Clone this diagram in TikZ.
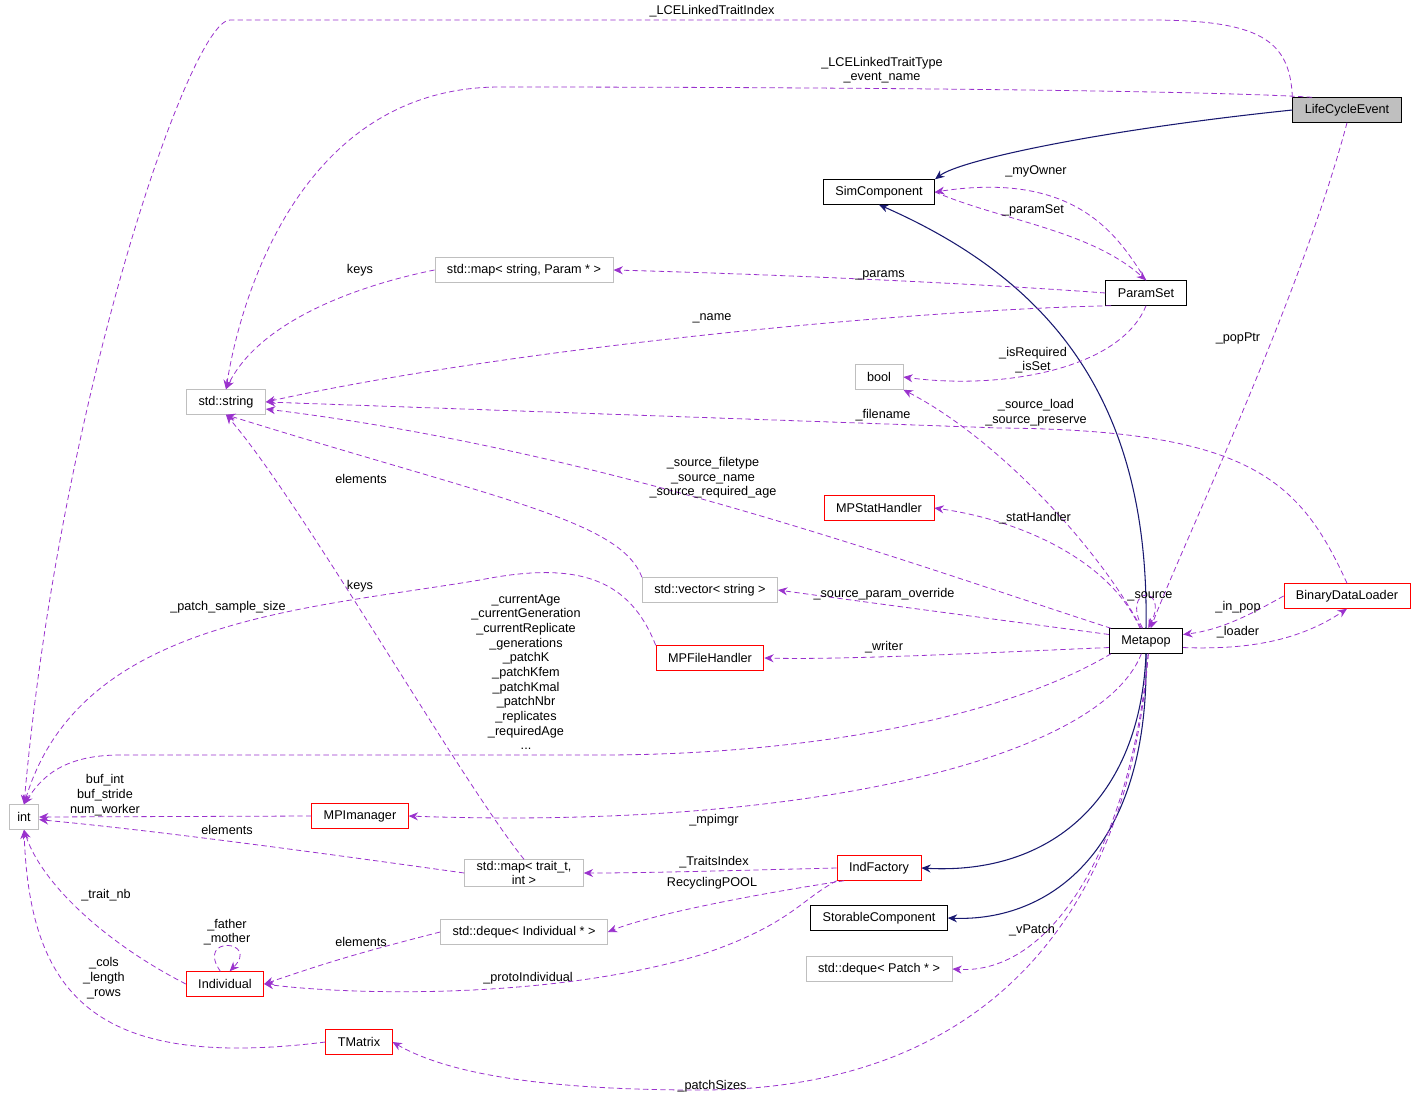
\documentclass[tikz,border=0pt]{standalone}
\usepackage{fontspec}
\setmainfont{Liberation Sans}
\usetikzlibrary{arrows.meta,positioning}
\definecolor{edgepurple}{HTML}{9A32CD}
\definecolor{edgenavy}{HTML}{191970}
\definecolor{boxgray}{HTML}{BFBFBF}
\begin{document}
\begin{tikzpicture}[x=0.75pt,y=-0.75pt,font=\fontsize{9.5}{11}\selectfont]
\tikzstyle{cls} = [rectangle, draw=black, fill=white, minimum height=18.5pt, inner xsep=9pt, inner ysep=2pt, line width=0.6pt]
\tikzstyle{ext} = [cls, draw=boxgray]
\tikzstyle{undoc} = [cls, draw=red]
\tikzstyle{dep} = [draw=edgepurple, dashed, dash pattern=on 4pt off 2.5pt, -{Stealth[length=7pt,width=6pt]}, line width=0.6pt]
\tikzstyle{inh} = [draw=edgenavy, -{Stealth[length=7pt,width=6pt]}, line width=0.8pt]
\tikzstyle{lbl} = [inner sep=0pt, align=center]

\useasboundingbox (0,0) rectangle (1416,1104);

% classes
\node [cls, fill=boxgray] (lce) at (1347,110) {LifeCycleEvent};
\node [cls] (sim) at (879,192) {SimComponent};
\node [ext] (pmap) at (524,270) {std::map< string, Param * >};
\node [cls] (pset) at (1146,293) {ParamSet};
\node [ext] (bool) at (879,377) {bool};
\node [ext] (str) at (226,402) {std::string};
\node [undoc] (stat) at (879,508) {MPStatHandler};
\node [ext] (svec) at (710,590) {std::vector< string >};
\node [undoc] (bdl) at (1347,596) {BinaryDataLoader};
\node [cls] (mp) at (1146,641) {Metapop};
\node [undoc] (fh) at (710,658) {MPFileHandler};
\node [ext, inner xsep=6pt] (int) at (24,817) {int};
\node [undoc] (mpim) at (360,816) {MPImanager};
\node [ext, align=center, inner ysep=1pt] (tmap) at (524,873) {std::map< trait\_t,\\ int >};
\node [undoc] (indf) at (879,868) {IndFactory};
\node [cls] (stor) at (879,918) {StorableComponent};
\node [ext] (dind) at (524,932) {std::deque< Individual * >};
\node [undoc] (ind) at (225,984) {Individual};
\node [ext] (dpatch) at (879,969) {std::deque< Patch * >};
\node [undoc] (tmx) at (359,1042) {TMatrix};

% inheritance
\draw [inh] (lce.west) .. controls (1100,130) and (960,160) .. (sim.north east);
\draw [inh] (mp.north) .. controls (1150,400) and (1050,280) .. (sim.south);
\draw [inh] (mp.south) .. controls (1140,800) and (1050,875) .. (indf.east);
\draw [inh] (mp.south) .. controls (1150,850) and (1050,922) .. (stor.east);

% usage
\draw [dep] (lce.north west) .. controls (1290,40) and (1260,20) .. (1150,20) -- (230,20) .. controls (190,20) and (60,400) .. (int.north);
\node [lbl] (l1) at (712,11) {\_LCELinkedTraitIndex};
\draw [dep] (lce.160) .. controls (1200,90) and (800,87) .. (500,87) .. controls (300,87) and (240,300) .. (str.north);
\node [lbl] (l2) at (882,70) {\_LCELinkedTraitType\\\_event\_name};
\draw [dep] (pset.north) .. controls (1120,240) and (1080,170) .. (sim.east);
\node [lbl] (l3) at (1036,171) {\_myOwner};
\draw [dep] (sim.east) .. controls (1000,220) and (1090,230) .. (pset.north);
\node [lbl] (l4) at (1033,210) {\_paramSet};
\draw [dep] (pset.west) .. controls (1000,285) and (800,275) .. (pmap.east);
\node [lbl] (l5) at (880,275) {\_params};
\draw [dep] (pset.200) .. controls (900,310) and (500,350) .. (str.east);
\node [lbl] (l6) at (712,318) {\_name};
\draw [dep] (pmap.west) .. controls (360,285) and (260,320) .. (str.north);
\node [lbl] (l7) at (360,270) {keys};
\draw [dep] (pset.south) .. controls (1120,370) and (1000,390) .. (bool.east);
\node [lbl] (l8) at (1033,360) {\_isRequired\\\_isSet};
\draw [dep] (mp.110) .. controls (1100,550) and (1000,440) .. (bool.south east);
\node [lbl] (l9) at (1036,413) {\_source\_load\\\_source\_preserve};
\draw [dep] (bdl.north) .. controls (1300,480) and (1250,430) .. (1000,428) -- (str.east);
\node [lbl] (l10) at (883,415) {\_filename};
\draw [dep] (mp.160) .. controls (900,560) and (600,450) .. (str.-10);
\node [lbl] (l11) at (713,478) {\_source\_filetype\\\_source\_name\\\_source\_required\_age};
\draw [dep] (svec.north west) .. controls (620,520) and (500,500) .. (str.south);
\node [lbl] (l12) at (361,479) {elements};
\draw [dep] (mp.115) .. controls (1110,560) and (1020,520) .. (stat.east);
\node [lbl] (l13) at (1035,518) {\_statHandler};
\draw [dep] (lce.south) .. controls (1300,300) and (1180,550) .. (mp.70);
\node [lbl] (l14) at (1238,338) {\_popPtr};
\draw [dep] (mp.105) .. controls (1120,585) and (1170,585) .. (mp.80);
\node [lbl] (l15) at (1150,596) {\_source};
\draw [dep] (mp.170) .. controls (1000,620) and (850,600) .. (svec.east);
\node [lbl] (l16) at (884,594) {\_source\_param\_override};
\draw [dep] (bdl.west) .. controls (1250,615) and (1220,630) .. (mp.10);
\node [lbl] (l17) at (1238,607) {\_in\_pop};
\draw [dep] (mp.-10) .. controls (1250,650) and (1300,640) .. (bdl.south);
\node [lbl] (l18) at (1238,632) {\_loader};
\draw [dep] (mp.190) .. controls (1000,652) and (850,660) .. (fh.east);
\node [lbl] (l19) at (884,647) {\_writer};
\draw [dep] (fh.north west) .. controls (630,580) and (580,560) .. (480,580) .. controls (300,610) and (80,620) .. (int.north);
\node [lbl] (l20) at (228,607) {\_patch\_sample\_size};
\draw [dep] (tmap.north) .. controls (460,780) and (300,500) .. (str.south);
\node [lbl] (l21) at (360,586) {keys};
\draw [dep] (mp.200) .. controls (1000,720) and (800,755) .. (600,755) -- (120,755) .. controls (60,755) and (40,780) .. (int.north);
\node [lbl] (l22) at (526,672) {\_currentAge\\\_currentGeneration\\\_currentReplicate\\\_generations\\\_patchK\\\_patchKfem\\\_patchKmal\\\_patchNbr\\\_replicates\\\_requiredAge\\...};
\draw [dep] (mpim.west) -- (int.east);
\node [lbl] (l23) at (105,795) {buf\_int\\buf\_stride\\num\_worker};
\draw [dep] (mp.250) .. controls (1100,760) and (800,830) .. (mpim.east);
\node [lbl] (l24) at (714,820) {\_mpimgr};
\draw [dep] (tmap.west) .. controls (300,850) and (150,830) .. (int.-10);
\node [lbl] (l25) at (227,830) {elements};
\draw [dep] (indf.west) .. controls (750,870) and (650,873) .. (tmap.east);
\node [lbl] (l26) at (714,862) {\_TraitsIndex};
\draw [dep] (indf.200) .. controls (750,895) and (650,915) .. (dind.east);
\node [lbl] (l27) at (712,883) {RecyclingPOOL};
\draw [dep] (indf.south west) .. controls (800,900) and (790,925) .. (700,955) .. controls (550,1000) and (350,995) .. (ind.east);
\node [lbl] (l28) at (528,978) {\_protoIndividual};
\draw [dep] (mp.280) .. controls (1130,850) and (1050,975) .. (dpatch.east);
\node [lbl] (l29) at (1032,930) {\_vPatch};
\draw [dep] (mp.-80) .. controls (1130,900) and (1000,1090) .. (700,1090) .. controls (550,1090) and (450,1075) .. (tmx.east);
\node [lbl] (l30) at (712,1086) {\_patchSizes};
\draw [dep] (dind.west) .. controls (350,955) and (320,965) .. (ind.east);
\node [lbl] (l31) at (361,942) {elements};
\draw [dep] (ind.west) .. controls (100,940) and (40,880) .. (int.south);
\node [lbl] (l32) at (106,895) {\_trait\_nb};
\draw [dep] (ind.110) .. controls (195,935) and (260,940) .. (ind.70);
\node [lbl] (l33) at (227,932) {\_father\\\_mother};
\draw [dep] (tmx.west) .. controls (100,1070) and (30,1000) .. (int.south);
\node [lbl] (l34) at (104,978) {\_cols\\\_length\\\_rows};
\end{tikzpicture}
\end{document}
